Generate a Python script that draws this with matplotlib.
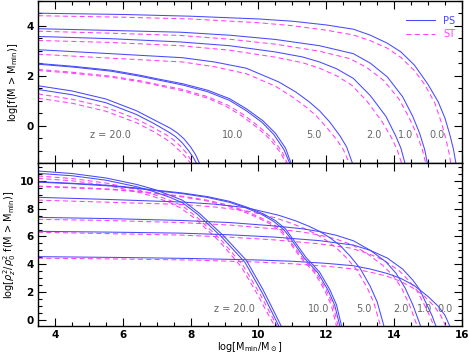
import matplotlib
matplotlib.use("Agg")
import matplotlib.pyplot as plt
from matplotlib.ticker import MultipleLocator

# ---- data ----
# top panel: log f(M > Mmin), PS (solid) and ST (dashed)
ps_top_z0_x = [3.5, 6, 8, 10, 11, 12, 12.8, 13.3, 13.8, 14.2, 14.6, 15.0, 15.3, 15.5, 15.65, 15.75, 15.82]
ps_top_z0_y = [4.50, 4.45, 4.38, 4.27, 4.18, 4.03, 3.86, 3.62, 3.30, 2.95, 2.42, 1.65, 0.95, 0.30, -0.40, -0.95, -1.5]
st_top_z0_x = [3.5, 6, 8, 10, 11, 12, 12.8, 13.3, 13.8, 14.2, 14.6, 14.9, 15.2, 15.4, 15.52, 15.62, 15.67]
st_top_z0_y = [4.40, 4.34, 4.27, 4.12, 4.00, 3.82, 3.63, 3.40, 3.10, 2.73, 2.20, 1.65, 0.90, 0.10, -0.50, -1.10, -1.5]

ps_top_z1_x = [3.5, 5.66, 7.7, 9.15, 10.5, 11.8, 12.8, 13.3, 13.8, 14.25, 14.55, 14.75, 14.9, 14.98]
ps_top_z1_y = [3.88, 3.81, 3.74, 3.62, 3.45, 3.20, 2.88, 2.50, 1.95, 1.16, 0.37, -0.30, -0.95, -1.5]
st_top_z1_x = [3.5, 5.66, 7.7, 9.15, 10.5, 11.8, 12.7, 13.2, 13.7, 14.15, 14.45, 14.67, 14.83, 14.93]
st_top_z1_y = [3.78, 3.70, 3.61, 3.46, 3.26, 2.98, 2.68, 2.32, 1.80, 1.05, 0.30, -0.35, -0.95, -1.5]

ps_top_z2_x = [3.5, 5.66, 7.7, 9.15, 10.5, 11.3, 11.8, 12.3, 12.8, 13.3, 13.76, 14.05, 14.2, 14.32]
ps_top_z2_y = [3.57, 3.48, 3.35, 3.20, 2.95, 2.75, 2.55, 2.28, 1.89, 1.20, 0.37, -0.42, -0.90, -1.5]
st_top_z2_x = [3.5, 5.66, 7.7, 9.15, 10.5, 11.3, 11.8, 12.3, 12.75, 13.2, 13.65, 13.95, 14.1, 14.22]
st_top_z2_y = [3.41, 3.33, 3.20, 3.02, 2.74, 2.52, 2.30, 2.00, 1.62, 0.98, 0.15, -0.55, -1.0, -1.5]

ps_top_z5_x = [3.5, 5.66, 7.76, 8.7, 9.64, 10.6, 11.1, 11.5, 11.8, 12.1, 12.4, 12.6, 12.77]
ps_top_z5_y = [3.04, 2.88, 2.72, 2.55, 2.30, 1.75, 1.35, 0.95, 0.60, 0.15, -0.40, -0.85, -1.5]
st_top_z5_x = [3.5, 5.66, 7.76, 8.7, 9.64, 10.5, 11.0, 11.4, 11.7, 12.0, 12.3, 12.5, 12.68]
st_top_z5_y = [2.86, 2.70, 2.55, 2.36, 2.08, 1.58, 1.15, 0.75, 0.40, -0.05, -0.55, -0.95, -1.5]

ps_top_z10a_x = [3.5, 4.5, 5.66, 6.5, 7.0, 7.76, 8.5, 9.15, 9.64, 10.13, 10.5, 10.8, 10.96]
ps_top_z10a_y = [2.49, 2.38, 2.22, 2.02, 1.88, 1.68, 1.42, 1.08, 0.68, 0.20, -0.30, -0.90, -1.5]
ps_top_z10b_x = [3.5, 4.5, 5.66, 6.5, 7.0, 7.76, 8.5, 9.15, 9.64, 10.1, 10.45, 10.75, 10.92]
ps_top_z10b_y = [2.46, 2.35, 2.18, 1.98, 1.84, 1.63, 1.36, 1.01, 0.60, 0.14, -0.35, -0.95, -1.5]
st_top_z10a_x = [3.5, 4.5, 5.66, 6.5, 7.0, 7.76, 8.5, 9.1, 9.55, 10.0, 10.4, 10.7, 10.85]
st_top_z10a_y = [2.25, 2.14, 1.98, 1.80, 1.66, 1.45, 1.16, 0.82, 0.45, -0.02, -0.50, -1.05, -1.5]
st_top_z10b_x = [3.5, 4.5, 5.66, 6.5, 7.0, 7.76, 8.5, 9.05, 9.5, 9.95, 10.35, 10.65, 10.81]
st_top_z10b_y = [2.21, 2.10, 1.94, 1.76, 1.62, 1.40, 1.10, 0.77, 0.40, -0.06, -0.55, -1.08, -1.5]

ps_top_z20a_x = [3.5, 4.5, 5.5, 6.4, 6.9, 7.4, 7.6, 7.8, 8.0, 8.15, 8.26]
ps_top_z20a_y = [1.60, 1.39, 1.07, 0.60, 0.25, -0.10, -0.28, -0.52, -0.85, -1.17, -1.5]
ps_top_z20b_x = [3.5, 4.5, 5.5, 6.4, 6.9, 7.35, 7.55, 7.75, 7.93, 8.07, 8.17]
ps_top_z20b_y = [1.45, 1.24, 0.92, 0.45, 0.10, -0.25, -0.43, -0.68, -0.98, -1.25, -1.5]
st_top_z20a_x = [3.5, 4.5, 5.5, 6.4, 6.9, 7.3, 7.5, 7.7, 7.88, 8.07]
st_top_z20a_y = [1.27, 1.06, 0.74, 0.27, -0.08, -0.38, -0.57, -0.82, -1.1, -1.5]
st_top_z20b_x = [3.5, 4.5, 5.5, 6.4, 6.9, 7.25, 7.45, 7.65, 7.83, 8.0]
st_top_z20b_y = [1.10, 0.90, 0.58, 0.12, -0.23, -0.52, -0.72, -0.97, -1.22, -1.5]

# bottom panel: log[rho_z^2/rho_0^2 f(M > Mmin)]
ps_bot_z0_x = [3.5, 6, 8, 10, 11, 12, 12.8, 13.3, 13.8, 14.2, 14.6, 15.0, 15.3, 15.5, 15.64]
ps_bot_z0_y = [4.55, 4.49, 4.42, 4.31, 4.22, 4.07, 3.90, 3.66, 3.34, 2.99, 2.46, 1.69, 0.99, 0.34, -0.43]
st_bot_z0_x = [3.5, 6, 8, 10, 11, 12, 12.8, 13.3, 13.8, 14.2, 14.6, 14.9, 15.2, 15.38, 15.52]
st_bot_z0_y = [4.44, 4.38, 4.31, 4.16, 4.04, 3.86, 3.67, 3.44, 3.14, 2.77, 2.24, 1.69, 0.94, 0.30, -0.43]

ps_bot_z1_x = [3.5, 5.66, 7.7, 9.15, 10.5, 11.8, 12.8, 13.3, 13.8, 14.25, 14.55, 14.75, 14.98, 15.12, 15.23]
ps_bot_z1_y = [6.37, 6.31, 6.24, 6.12, 5.95, 5.70, 5.38, 5.00, 4.45, 3.66, 2.87, 2.20, 1.02, 0.30, -0.43]
st_bot_z1_x = [3.5, 5.66, 7.7, 9.15, 10.5, 11.8, 12.7, 13.2, 13.7, 14.15, 14.45, 14.67, 14.9, 15.05, 15.17]
st_bot_z1_y = [6.30, 6.20, 6.10, 5.95, 5.75, 5.47, 5.17, 4.81, 4.29, 3.54, 2.79, 2.13, 1.05, 0.30, -0.43]

ps_bot_z2_x = [3.5, 5.66, 7.7, 9.15, 10.5, 11.3, 11.8, 12.3, 12.8, 13.3, 13.76, 14.05, 14.32, 14.55, 14.78]
ps_bot_z2_y = [7.37, 7.28, 7.15, 7.00, 6.75, 6.55, 6.35, 6.08, 5.69, 5.00, 4.17, 3.38, 2.32, 1.10, -0.43]
st_bot_z2_x = [3.5, 5.66, 7.7, 9.15, 10.5, 11.3, 11.8, 12.3, 12.75, 13.2, 13.65, 13.95, 14.22, 14.45, 14.68]
st_bot_z2_y = [7.23, 7.14, 7.00, 6.82, 6.54, 6.32, 6.10, 5.80, 5.42, 4.78, 3.95, 3.25, 2.30, 1.10, -0.43]

ps_bot_z5_x = [3.5, 5.66, 7.76, 8.7, 9.64, 10.6, 11.1, 11.5, 11.8, 12.1, 12.4, 12.7, 13.0, 13.3, 13.5, 13.7]
ps_bot_z5_y = [8.81, 8.65, 8.47, 8.32, 8.07, 7.52, 7.12, 6.72, 6.37, 5.92, 5.37, 4.60, 3.70, 2.40, 1.30, -0.43]
st_bot_z5_x = [3.5, 5.66, 7.76, 8.7, 9.64, 10.5, 11.0, 11.4, 11.7, 12.0, 12.3, 12.6, 12.9, 13.2, 13.4, 13.6]
st_bot_z5_y = [8.61, 8.45, 8.30, 8.12, 7.84, 7.34, 6.92, 6.52, 6.17, 5.72, 5.17, 4.45, 3.60, 2.35, 1.25, -0.43]

ps_bot_z10a_x = [3.5, 4.5, 5.66, 6.5, 7.0, 7.76, 8.5, 9.15, 9.64, 10.13, 10.5, 10.8, 10.96, 11.4, 11.8, 12.1, 12.3, 12.45]
ps_bot_z10a_y = [9.93, 9.82, 9.66, 9.46, 9.32, 9.12, 8.86, 8.52, 8.12, 7.64, 7.14, 6.54, 6.00, 4.50, 3.45, 2.20, 1.10, -0.43]
ps_bot_z10b_x = [3.5, 4.5, 5.66, 6.5, 7.0, 7.76, 8.5, 9.15, 9.6, 10.1, 10.45, 10.75, 10.92, 11.35, 11.75, 12.05, 12.25, 12.40]
ps_bot_z10b_y = [9.90, 9.79, 9.62, 9.42, 9.28, 9.07, 8.80, 8.45, 8.08, 7.58, 7.08, 6.48, 5.95, 4.45, 3.40, 2.15, 1.05, -0.43]
st_bot_z10a_x = [3.5, 4.5, 5.66, 6.5, 7.0, 7.76, 8.5, 9.1, 9.55, 10.0, 10.4, 10.7, 10.85, 11.3, 11.7, 12.0, 12.2, 12.35]
st_bot_z10a_y = [9.62, 9.53, 9.40, 9.24, 9.10, 8.89, 8.60, 8.26, 7.89, 7.42, 6.94, 6.39, 5.94, 4.45, 3.40, 2.15, 1.05, -0.43]
st_bot_z10b_x = [3.5, 4.5, 5.66, 6.5, 7.0, 7.76, 8.5, 9.05, 9.5, 9.95, 10.35, 10.65, 10.81, 11.25, 11.65, 11.95, 12.15, 12.30]
st_bot_z10b_y = [9.58, 9.49, 9.36, 9.20, 9.06, 8.84, 8.54, 8.21, 7.84, 7.38, 6.89, 6.36, 5.94, 4.45, 3.40, 2.15, 1.05, -0.43]

ps_bot_z20a_x = [3.5, 4.5, 5.5, 6.4, 6.9, 7.4, 7.76, 8.26, 8.95, 9.64, 10.13, 10.4, 10.67]
ps_bot_z20a_y = [10.70, 10.52, 10.20, 9.74, 9.40, 8.95, 8.60, 7.66, 6.10, 4.30, 2.20, 0.90, -0.43]
ps_bot_z20b_x = [3.5, 4.5, 5.5, 6.4, 6.9, 7.4, 7.76, 8.2, 8.9, 9.6, 10.1, 10.35, 10.6]
ps_bot_z20b_y = [10.53, 10.36, 10.04, 9.58, 9.23, 8.80, 8.42, 7.60, 6.00, 4.15, 2.00, 0.80, -0.43]
st_bot_z20a_x = [3.5, 4.5, 5.5, 6.4, 6.9, 7.4, 7.76, 8.2, 8.9, 9.55, 10.05, 10.3, 10.55]
st_bot_z20a_y = [10.34, 10.16, 9.84, 9.38, 9.03, 8.58, 8.20, 7.35, 5.75, 3.90, 1.85, 0.70, -0.43]
st_bot_z20b_x = [3.5, 4.5, 5.5, 6.4, 6.9, 7.4, 7.7, 8.15, 8.85, 9.5, 9.98, 10.23, 10.48]
st_bot_z20b_y = [10.17, 10.00, 9.68, 9.22, 8.87, 8.42, 8.05, 7.25, 5.65, 3.80, 1.80, 0.65, -0.43]

# redshift labels (text, x position, panel y position)
z_labels = ["z = 20.0", "10.0", "5.0", "2.0", "1.0", "0.0"]
z_label_x_top = [5.63, 9.25, 11.64, 13.4, 14.35, 15.25]
z_label_x_bot = [9.3, 11.77, 13.12, 14.2, 14.9, 15.5]

# ---- drawing ----
plt.rcParams['lines.scale_dashes'] = False
blue = '#4848ff'
pink = '#ff3cff'
grey = '#666666'

fig = plt.figure(figsize=(4.69, 3.54), dpi=100)
ax1 = fig.add_axes([0.081, 0.539, 0.904, 0.459])
ax2 = fig.add_axes([0.081, 0.079, 0.904, 0.460])

ps_top = [(ps_top_z0_x, ps_top_z0_y), (ps_top_z1_x, ps_top_z1_y), (ps_top_z2_x, ps_top_z2_y),
          (ps_top_z5_x, ps_top_z5_y), (ps_top_z10a_x, ps_top_z10a_y), (ps_top_z10b_x, ps_top_z10b_y),
          (ps_top_z20a_x, ps_top_z20a_y), (ps_top_z20b_x, ps_top_z20b_y)]
st_top = [(st_top_z0_x, st_top_z0_y), (st_top_z1_x, st_top_z1_y), (st_top_z2_x, st_top_z2_y),
          (st_top_z5_x, st_top_z5_y), (st_top_z10a_x, st_top_z10a_y), (st_top_z10b_x, st_top_z10b_y),
          (st_top_z20a_x, st_top_z20a_y), (st_top_z20b_x, st_top_z20b_y)]
ps_bot = [(ps_bot_z0_x, ps_bot_z0_y), (ps_bot_z1_x, ps_bot_z1_y), (ps_bot_z2_x, ps_bot_z2_y),
          (ps_bot_z5_x, ps_bot_z5_y), (ps_bot_z10a_x, ps_bot_z10a_y), (ps_bot_z10b_x, ps_bot_z10b_y),
          (ps_bot_z20a_x, ps_bot_z20a_y), (ps_bot_z20b_x, ps_bot_z20b_y)]
st_bot = [(st_bot_z0_x, st_bot_z0_y), (st_bot_z1_x, st_bot_z1_y), (st_bot_z2_x, st_bot_z2_y),
          (st_bot_z5_x, st_bot_z5_y), (st_bot_z10a_x, st_bot_z10a_y), (st_bot_z10b_x, st_bot_z10b_y),
          (st_bot_z20a_x, st_bot_z20a_y), (st_bot_z20b_x, st_bot_z20b_y)]

for ax, ps, st in [(ax1, ps_top, st_top), (ax2, ps_bot, st_bot)]:
    for i, (x, y) in enumerate(st):
        ax.plot(x, y, color=pink, lw=0.75, dashes=(3.6, 2.4), label='ST' if i == 0 else None)
    for i, (x, y) in enumerate(ps):
        ax.plot(x, y, color=blue, lw=0.75, label='PS' if i == 0 else None)

ax1.set_xlim(3.5, 16)
ax1.set_ylim(-1.5, 5.0)
ax2.set_xlim(3.5, 16)
ax2.set_ylim(-0.43, 11.26)

for lab, xt in zip(z_labels, z_label_x_top):
    ax1.text(xt, -0.38, lab, color=grey, fontsize=7, ha='center', va='center')
for lab, xb in zip(z_labels, z_label_x_bot):
    ax2.text(xb, 0.79, lab, color=grey, fontsize=7, ha='center', va='center')

handles, labels = ax1.get_legend_handles_labels()
ax1.legend(handles[::-1], labels[::-1], loc='upper right', bbox_to_anchor=(1.0, 0.95),
           frameon=False, fontsize=7, handlelength=3.0, labelcolor='linecolor',
           labelspacing=0.35, borderaxespad=0.3)

for ax in (ax1, ax2):
    ax.xaxis.set_major_locator(MultipleLocator(2))
    ax.xaxis.set_minor_locator(MultipleLocator(0.5))
    ax.yaxis.set_major_locator(MultipleLocator(2))
    ax.yaxis.set_minor_locator(MultipleLocator(0.5))
    ax.tick_params(which='both', direction='in', top=True, right=True, width=0.8)
    ax.tick_params(which='major', length=6, labelsize=7.5, pad=3)
    ax.tick_params(which='minor', length=3)
    for lbl in ax.get_xticklabels() + ax.get_yticklabels():
        lbl.set_fontweight('bold')
    for sp in ax.spines.values():
        sp.set_linewidth(1.0)

ax1.tick_params(labelbottom=False)
ax1.set_ylabel(r'log[f(M > M$_{\rm min}$)]', fontsize=7, labelpad=5)
ax2.set_ylabel(r'log[$\rho_z^2/\rho_0^2$ f(M > M$_{\rm min}$)]', fontsize=7, labelpad=1)
ax2.set_xlabel(r'log[M$_{\rm min}$/M$_\odot$]', fontsize=7, labelpad=0)

fig.savefig('out.png', dpi=100)
